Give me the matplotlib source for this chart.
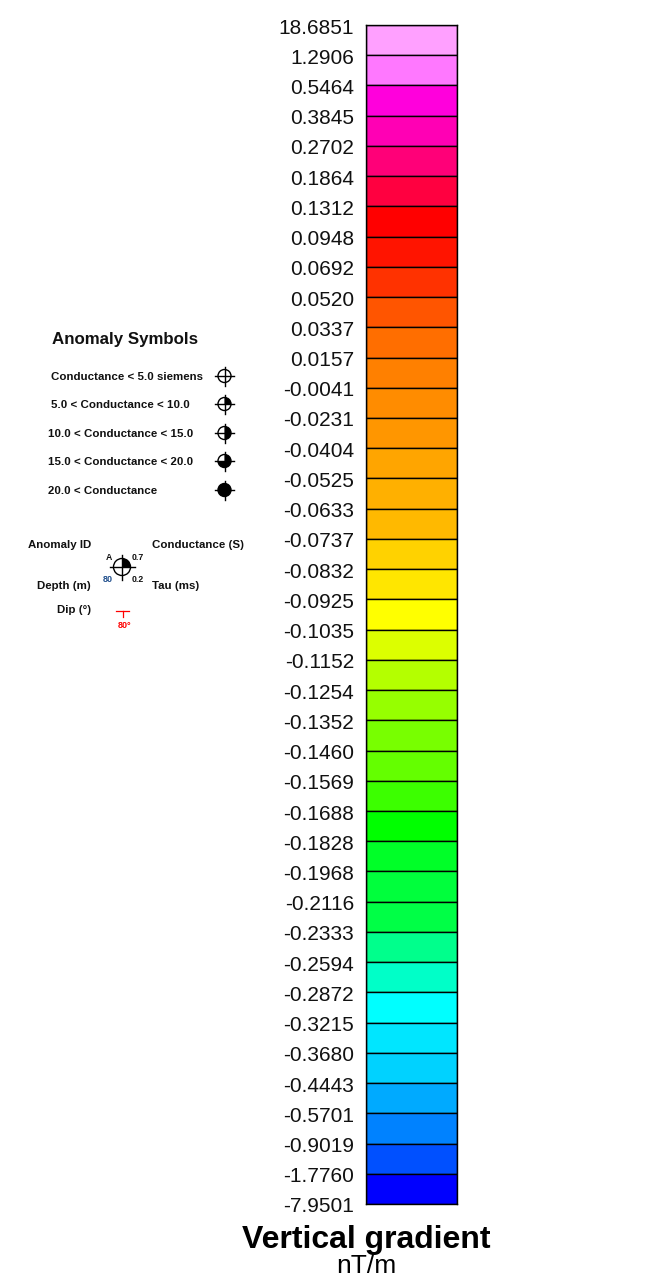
import matplotlib
matplotlib.use("Agg")
import matplotlib.pyplot as plt
from matplotlib.patches import Circle, Wedge
from matplotlib.transforms import ScaledTranslation

plt.rcParams["font.family"] = ["Liberation Sans", "DejaVu Sans"]

W, H = 653, 1287

# class limits, top of the bar to the bottom
limits = ["18.6851", "1.2906", "0.5464", "0.3845", "0.2702", "0.1864", "0.1312", "0.0948",
          "0.0692", "0.0520", "0.0337", "0.0157", "-0.0041", "-0.0231", "-0.0404", "-0.0525",
          "-0.0633", "-0.0737", "-0.0832", "-0.0925", "-0.1035", "-0.1152", "-0.1254", "-0.1352",
          "-0.1460", "-0.1569", "-0.1688", "-0.1828", "-0.1968", "-0.2116", "-0.2333", "-0.2594",
          "-0.2872", "-0.3215", "-0.3680", "-0.4443", "-0.5701", "-0.9019", "-1.7760", "-7.9501"]

band_colors = ["#FFA0FF", "#FF78FF", "#FF00DC", "#FF00B4", "#FF0078", "#FF0040", "#FF0000",
               "#FF1400", "#FF3200", "#FF5500", "#FF6E00", "#FF8000", "#FF8C00", "#FF9600",
               "#FFA500", "#FFB000", "#FFB900", "#FFD200", "#FFE600", "#FFFF00", "#DCFF00",
               "#B4FF00", "#96FF00", "#78FF00", "#64FF00", "#3CFF00", "#00FF00", "#00FF28",
               "#00FF3C", "#00FF46", "#00FF8C", "#00FFC8", "#00FFFF", "#00E6FF", "#00D2FF",
               "#00AAFF", "#0082FF", "#0050FF", "#0000FF"]

symbol_labels = ["Conductance < 5.0 siemens", "5.0 < Conductance < 10.0", "10.0 < Conductance < 15.0",
                 "15.0 < Conductance < 20.0", "20.0 < Conductance"]
# filled part of each symbol in degrees, y axis points down here
symbol_fill = [(0, 0), (-90, 0), (-90, 90), (-90, 180), (0, 360)]


def px_axes(x0, y0, x1, y1):
    return fig.add_axes([x0 / W, 1 - y1 / H, (x1 - x0) / W, (y1 - y0) / H])


def symbol(ax, x, y, fill, r=6.5, arm=9.5):
    if fill[0] != fill[1]:
        ax.add_patch(Wedge((x, y), r, fill[0], fill[1], fc="black", ec="none", zorder=2))
    ax.add_patch(Circle((x, y), r, fc="none", ec="black", lw=1.0, zorder=3))
    ax.plot([x - arm, x + arm], [y, y], color="black", lw=1.0, zorder=3)
    ax.plot([x, x], [y - arm, y + arm], color="black", lw=1.0, zorder=3)


def small(ax, x, y, s, ha="left", size=8.25, color="#111111"):
    ax.text(x, y, s, fontsize=size, fontweight="bold", ha=ha, va="center", color=color)


fig = plt.figure(figsize=(W / 100, H / 100), dpi=100)

# colour bar
ax = px_axes(366, 25, 457, 1204)
n = len(band_colors)
ax.barh(range(n), 1, height=1, left=0, color=band_colors, edgecolor="black", linewidth=1.0, align="edge")
ax.set_xlim(0, 1)
ax.set_ylim(n, 0)
ax.set_xticks([])
ax.set_yticks(range(n + 1))
ax.set_yticklabels(limits, fontsize=15, color="#111111")
ax.tick_params(axis="y", length=0, pad=8.5)
nudge = ScaledTranslation(0, -1 / 100, fig.dpi_scale_trans)
for lab in ax.get_yticklabels():
    lab.set_transform(lab.get_transform() + nudge)
for s in ax.spines.values():
    s.set_linewidth(1.0)

# everything else sits on a pixel sized overlay
ov = fig.add_axes([0, 0, 1, 1], facecolor="none")
ov.set_xlim(0, W)
ov.set_ylim(H, 0)
ov.axis("off")

ov.text(366, 1240, "Vertical gradient", fontsize=23, fontweight="bold", ha="center", va="center")
ov.text(366, 1266, "nT/m", fontsize=19, ha="center", va="center")

ov.text(125.5, 339.5, "Anomaly Symbols", fontsize=12.2, fontweight="bold", ha="center", va="center", color="#111111")
label_x = [51, 51, 48, 48, 48]
symbol_y = [376, 404, 433, 461, 490]
for lab, x, y, fill in zip(symbol_labels, label_x, symbol_y, symbol_fill):
    small(ov, x, y + 1, lab)
    symbol(ov, 224.5, y, fill)

# example symbol
small(ov, 91, 545, "Anomaly ID", ha="right")
small(ov, 152, 545, "Conductance (S)")
small(ov, 91, 586, "Depth (m)", ha="right")
small(ov, 152, 586, "Tau (ms)")
small(ov, 91, 610, "Dip (\u00b0)", ha="right")
symbol(ov, 122, 567, (-90, 0), r=8.5, arm=12.5)
small(ov, 109, 557.5, "A", ha="center", size=6.3)
small(ov, 137.5, 557.5, "0.7", ha="center", size=6.3)
small(ov, 137.5, 579.5, "0.2", ha="center", size=6.3)
small(ov, 107.5, 579.5, "80", ha="center", size=6.5, color="#1F4E8C")
ov.plot([116, 129], [610.7, 610.7], color="red", lw=0.9)
ov.plot([122.5, 122.5], [610.7, 617], color="red", lw=0.9)
small(ov, 124.5, 625.5, "80\u00b0", ha="center", size=6.5, color="red")

fig.savefig("out.png", dpi=100)
